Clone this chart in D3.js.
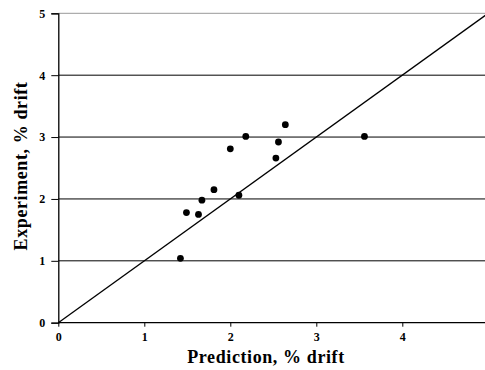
<!doctype html>
<meta charset="utf-8">
<title>Prediction vs Experiment</title>
<script src="https://cdn.jsdelivr.net/npm/d3@7"></script>
<style>
  body { margin: 0; background: #fff; }
  text { font-family: "Liberation Serif", "Times New Roman", serif; font-weight: bold; fill: #000; }
</style>
<svg id="chart" width="485" height="370"></svg>
<script>
  // predicted vs measured drift (%)
  const predicted = [1.42, 1.49, 1.63, 1.67, 1.81, 2.0, 2.1, 2.18, 2.53, 2.56, 2.64, 3.56]
  const measured = [1.04, 1.78, 1.75, 1.98, 2.15, 2.81, 2.06, 3.01, 2.66, 2.92, 3.2, 3.01]
  const xTicks = [0, 1, 2, 3, 4, 5]
  const yTicks = [0, 1, 2, 3, 4, 5]

  const svg = d3.select('#chart')
  const x = d3.scaleLinear().domain([0, 5]).range([58.3, 488.3])
  const y = d3.scaleLinear().domain([0, 5]).range([322.7, 13.3])

  // horizontal grid lines
  svg.append('g')
    .selectAll('line')
    .data(yTicks.filter(d => d > 0))
    .join('line')
    .attr('x1', x(0)).attr('x2', 485)
    .attr('y1', d => y(d)).attr('y2', d => y(d))
    .attr('stroke', d => d === 5 ? '#999' : '#000')
    .attr('stroke-width', 1)

  // 1:1 line
  svg.append('line')
    .attr('x1', x(0)).attr('y1', y(0))
    .attr('x2', x(5)).attr('y2', y(5))
    .attr('stroke', '#000').attr('stroke-width', 1.3)

  // axes
  const xAxis = svg.append('g')
    .attr('transform', `translate(0,${y(0)})`)
    .call(d3.axisBottom(x).tickValues(xTicks).tickSize(4).tickPadding(6).tickFormat(d3.format('d')))
  const yAxis = svg.append('g')
    .attr('transform', `translate(${x(0)},0)`)
    .call(d3.axisLeft(y).tickValues(yTicks).tickSize(7).tickPadding(6).tickFormat(d3.format('d')))
  ;[xAxis, yAxis].forEach(a => {
    a.attr('font-family', '"Liberation Serif", "Times New Roman", serif').attr('font-size', 12)
    a.select('.domain').attr('stroke', '#000').attr('stroke-width', 1.3)
    a.selectAll('.tick line').attr('stroke', '#000')
  })
  xAxis.select('.domain').attr('d', `M${x(0)},0H485`)

  // points
  svg.append('g')
    .selectAll('circle')
    .data(predicted.map((p, i) => [p, measured[i]]))
    .join('circle')
    .attr('cx', d => x(d[0]))
    .attr('cy', d => y(d[1]))
    .attr('r', 3.4)
    .attr('fill', '#000')

  // axis titles
  svg.append('text')
    .attr('x', 266).attr('y', 363)
    .attr('text-anchor', 'middle')
    .attr('font-size', 18)
    .attr('letter-spacing', 0.6)
    .text('Prediction, % drift')
  svg.append('text')
    .attr('transform', 'translate(27,166) rotate(-90)')
    .attr('text-anchor', 'middle')
    .attr('font-size', 18)
    .attr('letter-spacing', 0.6)
    .text('Experiment, % drift')
</script>
